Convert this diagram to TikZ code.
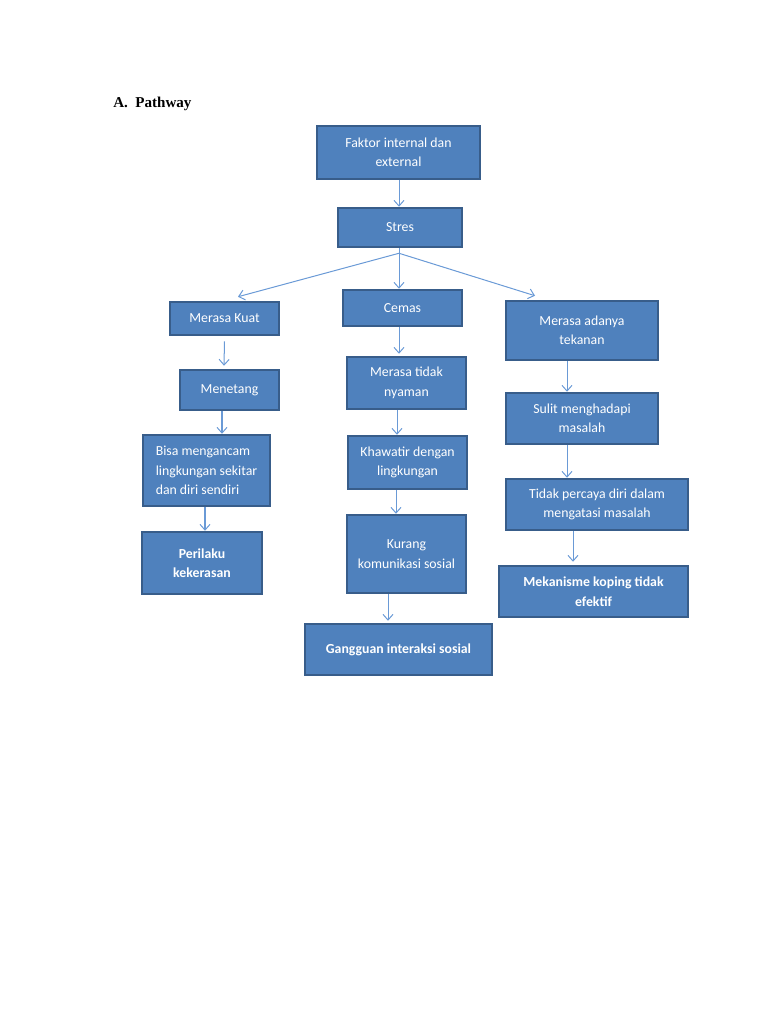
\documentclass[tikz,border=0pt]{standalone}
\usepackage{fontspec}
\setmainfont{Carlito}
\newfontfamily\titlefont{Liberation Serif}
\usetikzlibrary{arrows.meta,calc}
\definecolor{boxfill}{HTML}{4F81BD}
\definecolor{boxline}{HTML}{385D8A}
\definecolor{arrcol}{HTML}{6A9AD6}
\tikzset{
  bx/.style 2 args={draw=boxline, fill=boxfill, line width=2pt, text=white,
    minimum width=#1*0.797pt, minimum height=#2*0.797pt, inner sep=2pt,
    align=center, font=\fontsize{11}{15.5}\selectfont},
  arr/.style={draw=arrcol, line width=0.8pt, -{Straight Barb[length=4.5pt,width=8pt]}}
}
\begin{document}
\begin{tikzpicture}[x=0.797pt,y=-0.797pt]
\useasboundingbox (0,0) rectangle (768,1024);
\node[anchor=base west, font=\titlefont\bfseries\fontsize{12}{14}\selectfont, inner sep=0pt] (title) at (113,107) {A.\ \ Pathway};

\node[bx={163}{53}] (faktor) at (398.5,152.5) {Faktor internal dan\\external};
\node[bx={124}{39}] (stres) at (400,227.5) {Stres};
\node[bx={109}{33}] (kuat) at (224.5,318.5) {Merasa Kuat};
\node[bx={119}{36}] (cemas) at (402.5,308) {Cemas};
\node[bx={152}{59}] (tekanan) at (582,330.5) {Merasa adanya\\tekanan};
\node[bx={99}{40}] (menetang) at (229.5,390) {Menetang};
\node[bx={119}{52}] (nyaman) at (406.5,383) {Merasa tidak\\nyaman};
\node[bx={127}{71}, align=left] (bisa) at (206.5,470.5) {Bisa mengancam\\lingkungan sekitar\\dan diri sendiri};
\node[bx={119}{53}] (khawatir) at (407.5,462.5) {Khawatir dengan\\lingkungan};
\node[bx={119}{78}] (kurang) at (406.5,554) {Kurang\\komunikasi sosial};
\node[bx={120}{62}, font=\fontsize{11}{15.5}\selectfont\bfseries] (perilaku) at (202,563) {Perilaku\\kekerasan};
\node[bx={187}{51}, font=\fontsize{11}{15.5}\selectfont\bfseries] (gangguan) at (398.5,649.5) {Gangguan interaksi sosial};
\node[bx={152}{51}] (sulit) at (582,418.5) {Sulit menghadapi\\masalah};
\node[bx={182}{51}] (tidak) at (597,504.5) {Tidak percaya diri dalam\\mengatasi masalah};
\node[bx={189}{51}, font=\fontsize{11}{15.5}\selectfont\bfseries] (mek) at (593.5,591.5) {Mekanisme koping tidak\\efektif};

\coordinate (fan) at ($(stres.south)+(-1,5)$);

% arrows
\draw[arr] ($(faktor.south)+(0.5,0)$) -- ($(stres.north)+(-1,0)$);
\draw[draw=arrcol, line width=0.8pt] (stres.south -| fan) -- (fan);
\draw[arr] (fan) -- ($(kuat.north)+(13.5,-4)$);
\draw[arr] (fan) -- (fan |- cemas.north);
\draw[arr] (fan) -- ($(tekanan.north)+(-47,-4)$);

\draw[arr] ($(kuat.south)+(0,5)$) -- ($(menetang.north)+(-5.5,-3)$);
\draw[arr] ($(menetang.south)+(-7.5,0)$) -- ($(bisa.north)+(15.5,0)$);
\draw[arr] ($(bisa.south)+(-1.5,0)$) -- ($(perilaku.north)+(3,0)$);

\draw[arr] ($(cemas.south)+(-3.5,0)$) -- ($(nyaman.north)+(-7.5,-2)$);
\draw[arr] ($(nyaman.south)+(-9.5,0)$) -- ($(khawatir.north)+(-10.5,0)$);
\draw[arr] ($(khawatir.south)+(-11.5,0)$) -- ($(kurang.north)+(-10.5,0)$);
\draw[arr] ($(kurang.south)+(-18.5,0)$) -- ($(gangguan.north)+(-10.5,-2)$);

\draw[arr] ($(tekanan.south)+(-15,0)$) -- ($(sulit.north)+(-15,0)$);
\draw[arr] ($(sulit.south)+(-15,0)$) -- ($(tidak.north)+(-30,0)$);
\draw[arr] ($(tidak.south)+(-24,0)$) -- ($(mek.north)+(-20.5,-3)$);
\end{tikzpicture}
\end{document}
